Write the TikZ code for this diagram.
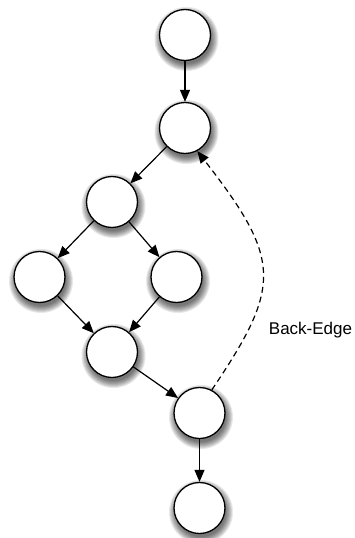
\documentclass[tikz,border=0pt]{standalone}
\usepackage{fontspec}
\setmainfont{Liberation Sans}
\usetikzlibrary{arrows.meta, calc, backgrounds}

\begin{document}
\begin{tikzpicture}[x=1pt, y=-1pt, >={Triangle[length=12pt, width=10pt]},
	vertex/.style={circle, draw, fill=white, line width=1.3pt, minimum size=51pt, inner sep=0pt},
	edge/.style={->, line width=1.2pt}]
	\useasboundingbox (0,0) rectangle (355,538);
	\node [vertex] (A) at (185,35) {};
	\node [vertex] (B) at (185,128) {};
	\node [vertex] (C) at (112,202) {};
	\node [vertex] (D) at (39.5,277) {};
	\node [vertex] (E) at (176.5,277) {};
	\node [vertex] (F) at (112,352) {};
	\node [vertex] (G) at (199.5,413) {};
	\node [vertex] (H) at (199.5,508) {};
	% soft shadows
	\begin{scope}[on background layer]
		\foreach \n in {A,B,C,D,E,F,G,H}
			\foreach \r in {25,26,...,32}
				\fill [black, opacity=0.09] ($(\n)+(1.5,4)$) circle (\r pt);
	\end{scope}
	\draw [edge] (A) -- (B);
	\draw [edge] (B) -- (C);
	\draw [edge] (C) -- (D);
	\draw [edge] (C) -- (E);
	\draw [edge] (D) -- (F);
	\draw [edge] (E) -- (F);
	\draw [edge] (F) -- (G);
	\draw [edge] (G) -- (H);
	\draw [edge, dash pattern=on 6pt off 4pt] (G.62) .. controls (282,286) and (282,260) .. (B.-62);
	\node [font=\fontsize{17}{20}\selectfont] (BE) at (310.5,330) {Back-Edge};
\end{tikzpicture}
\end{document}
